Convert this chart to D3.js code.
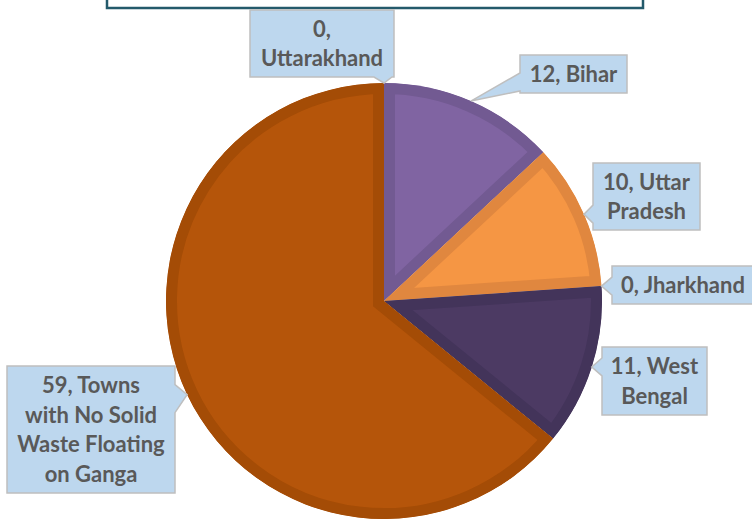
<!DOCTYPE html>
<html><head><meta charset="utf-8">
<script src="https://cdn.jsdelivr.net/npm/d3@7"></script>
<style>body{margin:0;background:#fff}svg{display:block}</style></head>
<body>
<svg id="c" width="752" height="521"></svg>
<script>
const categories = ["Uttarakhand","Bihar","Uttar Pradesh","Jharkhand","West Bengal","Towns with No Solid Waste Floating on Ganga"];
const values = [0, 12, 10, 0, 11, 59];
const labelLines = [["0,","Uttarakhand"],["12, Bihar"],["10, Uttar","Pradesh"],["0, Jharkhand"],["11, West","Bengal"],["59, Towns","with No Solid","Waste Floating","on Ganga"]];
const fillColors = ["#8064A2","#8064A2","#F59644","#F59644","#4C3A63","#B5550A"];
const bandColors = ["#725A92","#725A92","#E0873F","#E0873F","#43345A","#A44C06"];

// layout (callout boxes)
const boxes = [
  {x:250,y:10,w:144,h:67},
  {x:520,y:55,w:107,h:38},
  {x:593,y:163,w:107,h:67},
  {x:612,y:266,w:142,h:38},
  {x:602,y:347,w:105,h:68},
  {x:7,y:366,w:168,h:127}
];

const svg = d3.select("#c");
const cx = 384, cy = 301, R = 218;

// title box (bottom visible)
svg.append("rect").attr("x",107).attr("y",-30).attr("width",536).attr("height",38)
  .attr("fill","#fff").attr("stroke","#245A6B").attr("stroke-width",2.5);

const pie = d3.pie().sort(null).value(d=>d).startAngle(0).endAngle(2*Math.PI);
const arcs = pie(values);
const arc = d3.arc().innerRadius(0).outerRadius(R);
const g = svg.append("g").attr("transform",`translate(${cx},${cy})`);
const defs = svg.append("defs");

arcs.forEach((a,i)=>{
  if (a.endAngle - a.startAngle <= 0) return;
  const p = arc(a);
  defs.append("clipPath").attr("id","cl"+i).append("path").attr("d",p);
  g.append("path").attr("d",p).attr("fill",fillColors[i])
    .attr("stroke",bandColors[i]).attr("stroke-width",22)
    .attr("stroke-linejoin","miter").attr("stroke-miterlimit",20)
    .attr("clip-path",`url(#cl${i})`);
});

// callouts
const fs = 22, lh = 29.5;
arcs.forEach((a,i)=>{
  const mid = (a.startAngle + a.endAngle)/2;
  const tx = cx + R*Math.sin(mid), ty = cy - R*Math.cos(mid);
  const b = boxes[i];
  const x0=b.x, y0=b.y, x1=b.x+b.w, y1=b.y+b.h;
  let side;
  const dl = x0 - tx, dr = tx - x1, db = ty - y1, dt = y0 - ty;
  const m = Math.max(dl, dr, db, dt);
  side = m===dl ? "left" : m===dr ? "right" : m===db ? "bottom" : "top";
  const hw = side==="right" ? 14 : 9;
  const clamp=(v,lo,hi)=>Math.max(lo,Math.min(hi,v));
  let pts = [];
  pts.push([x0,y0]);
  if (side==="top"){ const c=clamp(tx,x0+hw+2,x1-hw-2); pts.push([c-hw,y0],[tx,ty],[c+hw,y0]); }
  pts.push([x1,y0]);
  if (side==="right"){ const c=clamp(ty+4,y0+hw+8,y1-hw-2); pts.push([x1,c-hw],[tx,ty],[x1,c+hw]); }
  pts.push([x1,y1]);
  if (side==="bottom"){ const c=clamp(tx,x0+hw+2,x1-hw-2); pts.push([c+hw,y1],[tx,ty],[c-hw,y1]); }
  pts.push([x0,y1]);
  if (side==="left"){ const c=clamp(ty,y0+hw+2,y1-hw-2); pts.push([x0,c+hw],[tx,ty],[x0,c-hw]); }
  svg.append("path").attr("d","M"+pts.map(p=>p.join(",")).join("L")+"Z")
    .attr("fill","#BDD7EE").attr("stroke","#BFBFBF").attr("stroke-width",1.5);
  const lines = labelLines[i];
  const n = lines.length, ccx = b.x+b.w/2, ccy = b.y+b.h/2;
  const t = svg.append("text").attr("text-anchor","middle")
    .attr("font-family","Lato, 'Open Sans', sans-serif").attr("font-weight",700)
    .attr("font-size",fs).attr("fill","#595959");
  lines.forEach((s,k)=>{
    t.append("tspan").attr("x",ccx).attr("y",ccy + (k-(n-1)/2)*lh + 0.36*fs).text(s);
  });
});
</script>
</body></html>
